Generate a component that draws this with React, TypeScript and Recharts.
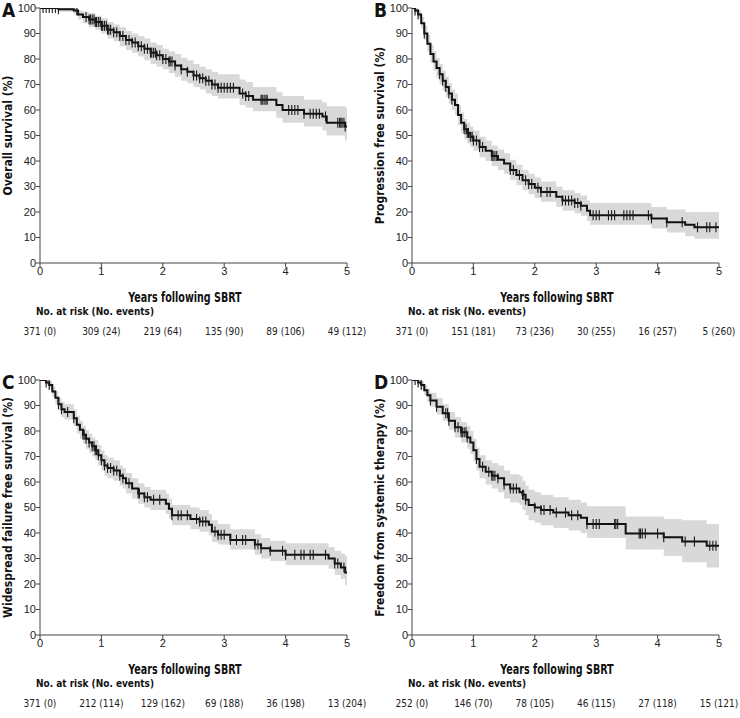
import React from "react";
import { ComposedChart, Line, Area, Scatter, XAxis, YAxis } from "recharts";

// ---------- Panel A: Overall survival ----------
const aTimes = [0, 0.3, 0.55, 0.62, 0.7, 0.8, 0.9, 1.0, 1.1, 1.2, 1.3, 1.4, 1.5, 1.6, 1.7, 1.8, 1.9, 2.0, 2.1, 2.2, 2.3, 2.4, 2.5, 2.6, 2.7, 2.8, 2.9, 3.25, 3.35, 3.47, 3.85, 3.95, 4.3, 4.6, 4.67, 4.97, 5];
const aSurv = [100, 99.5, 99, 97.5, 96.5, 95.5, 94.5, 93, 91.5, 90.5, 89, 87.5, 86.5, 85, 84, 82.5, 81.5, 80, 79, 77.5, 76, 75, 73.5, 72.5, 71.5, 70, 68.7, 66.5, 65.5, 64, 62, 60, 58.5, 57.5, 55, 53.5, 53.5];
const aLower = [100, 98.5, 97.5, 95.5, 94, 92.5, 91.5, 90, 88, 87, 85, 83.5, 82.5, 81, 79.5, 78, 77, 76, 74.5, 73, 71.5, 70.5, 69, 68, 66.5, 65.5, 64.5, 62, 61, 59.5, 57, 55, 53.5, 52, 50, 48, 48];
const aUpper = [100, 100, 100, 99, 98.5, 98, 97, 96, 94.5, 93.5, 92.5, 91, 90, 89, 88, 86.5, 85.5, 84, 83, 82, 80.5, 79.5, 78, 77, 76, 75, 74, 72, 71, 69, 67, 65.5, 64, 63, 61.5, 61, 61];
const aCensor = [0.05, 0.1, 0.15, 0.2, 0.25, 0.3, 0.6, 0.75, 0.8, 0.82, 0.85, 0.88, 0.9, 0.92, 0.95, 0.98, 1.0, 1.02, 1.05, 1.08, 1.1, 1.12, 1.15, 1.2, 1.25, 1.3, 1.35, 1.4, 1.45, 1.5, 1.55, 1.6, 1.65, 1.7, 1.75, 1.8, 1.82, 1.85, 1.88, 1.9, 1.95, 2.0, 2.05, 2.1, 2.12, 2.15, 2.2, 2.3, 2.4, 2.5, 2.55, 2.6, 2.65, 2.7, 2.75, 2.8, 2.85, 2.9, 2.95, 3.0, 3.05, 3.1, 3.15, 3.3, 3.35, 3.4, 3.6, 3.62, 3.65, 3.68, 3.7, 4.05, 4.1, 4.15, 4.2, 4.3, 4.4, 4.45, 4.5, 4.55, 4.65, 4.85, 4.88, 4.9, 4.92, 4.95, 4.97];
const aRisk = ["371 (0)", "309 (24)", "219 (64)", "135 (90)", "89 (106)", "49 (112)"];

// ---------- Panel B: Progression free survival ----------
const bTimes = [0, 0.05, 0.1, 0.15, 0.2, 0.25, 0.3, 0.35, 0.4, 0.45, 0.5, 0.55, 0.6, 0.65, 0.7, 0.75, 0.8, 0.85, 0.9, 0.95, 1.0, 1.1, 1.2, 1.3, 1.4, 1.5, 1.6, 1.7, 1.8, 1.9, 2.0, 2.1, 2.35, 2.45, 2.65, 2.75, 2.85, 2.9, 3.9, 4.15, 4.45, 4.6, 5];
const bSurv = [100, 99, 97.5, 94, 90, 86, 82, 79, 76.5, 74, 71.5, 69, 66.5, 64, 62, 58, 55, 52.5, 51, 49.5, 48, 45.5, 44, 42, 40.5, 39, 36.5, 34.5, 32.5, 31, 29.5, 27.8, 26, 24.5, 23.5, 22.5, 20.5, 18.7, 17.5, 16, 15, 14, 14];
const bLower = [100, 98, 96, 92, 87.5, 83, 78.5, 75.5, 72.5, 70, 67.5, 65, 62.5, 60, 58, 54, 51, 48.5, 47, 45.5, 44, 41.5, 40, 38, 36.5, 35, 32.5, 30.5, 28.5, 27, 25.5, 24, 22, 20.5, 19.5, 18.5, 16.5, 15, 13.5, 12, 10.5, 9.5, 9.5];
const bUpper = [100, 100, 99, 96.5, 93, 89.5, 85.5, 83, 80.5, 78, 75.5, 73, 70.5, 68, 66.5, 62, 59, 56.5, 55, 53.5, 52, 49.5, 48, 46, 44.5, 43, 40.5, 38.5, 36.5, 35, 33.5, 32, 30, 28.5, 27.5, 26.5, 24.5, 23.5, 22, 21, 20, 20, 20];
const bCensor = [0.05, 0.1, 0.2, 0.45, 0.5, 0.55, 0.6, 0.65, 0.85, 0.88, 0.9, 0.92, 0.95, 0.98, 1.0, 1.05, 1.1, 1.15, 1.3, 1.32, 1.35, 1.38, 1.6, 1.65, 1.75, 1.85, 1.9, 1.95, 2.05, 2.1, 2.2, 2.25, 2.45, 2.5, 2.55, 2.6, 2.65, 2.7, 2.75, 2.95, 3.0, 3.05, 3.2, 3.25, 3.3, 3.45, 3.5, 3.55, 3.6, 3.85, 3.9, 4.15, 4.4, 4.65, 4.8, 4.85, 4.95];
const bRisk = ["371 (0)", "151 (181)", "73 (236)", "30 (255)", "16 (257)", "5 (260)"];

// ---------- Panel C: Widespread failure free survival ----------
const cTimes = [0, 0.1, 0.15, 0.2, 0.25, 0.3, 0.35, 0.4, 0.55, 0.6, 0.65, 0.7, 0.75, 0.8, 0.85, 0.9, 0.95, 1.0, 1.05, 1.1, 1.2, 1.3, 1.35, 1.4, 1.5, 1.6, 1.7, 1.8, 2.05, 2.1, 2.15, 2.45, 2.6, 2.75, 2.8, 2.9, 3.1, 3.5, 3.6, 3.75, 4.0, 4.7, 4.8, 4.9, 4.97, 5];
const cSurv = [100, 99, 98, 95.5, 93, 90.5, 88.5, 87.5, 85, 82.5, 80.5, 78.5, 77, 75.5, 74, 72.5, 70.5, 68.5, 66.5, 65.5, 64.5, 62.5, 61.5, 59.5, 57.5, 55.5, 54, 53, 51.5, 49.5, 47, 45.5, 44.5, 43.2, 40.6, 39.3, 37.3, 35.5, 34, 33, 31.5, 30, 28, 26.5, 24.5, 24.5];
const cLower = [100, 98, 96.5, 93.5, 90.5, 88, 85.5, 84.5, 82, 79, 77, 75, 73, 71.5, 70, 68.5, 66.5, 64.5, 62.5, 61.5, 60.5, 58.5, 57.5, 55.5, 53.5, 51.5, 50, 49, 47.5, 45.5, 43, 41.5, 40.5, 39, 36.5, 35.5, 33.5, 31.5, 30, 29, 27.5, 26, 23.5, 22, 19.5, 17];
const cUpper = [100, 100, 99.5, 97.5, 95.5, 93, 91.5, 90.5, 88.5, 86, 84, 82, 80.5, 79, 77.5, 76.5, 74.5, 72.5, 70.5, 69.5, 68.5, 66.5, 65.5, 63.5, 61.5, 59.5, 58, 57, 55.5, 53.5, 51, 50, 49, 47.5, 45, 43.5, 41.5, 39.5, 38, 37, 36, 34.5, 33, 32, 31, 31];
const cCensor = [0.1, 0.15, 0.3, 0.35, 0.45, 0.55, 0.7, 0.72, 0.75, 0.8, 0.85, 0.88, 0.9, 0.92, 0.95, 1.0, 1.05, 1.1, 1.15, 1.2, 1.25, 1.3, 1.35, 1.45, 1.6, 1.62, 1.7, 1.75, 1.85, 1.95, 2.15, 2.25, 2.3, 2.4, 2.55, 2.6, 2.65, 2.7, 2.85, 2.9, 2.95, 3.0, 3.1, 3.2, 3.3, 3.35, 3.5, 3.55, 3.6, 3.75, 3.95, 4.0, 4.15, 4.25, 4.3, 4.4, 4.45, 4.65, 4.8, 4.85, 4.95];
const cRisk = ["371 (0)", "212 (114)", "129 (162)", "69 (188)", "36 (198)", "13 (204)"];

// ---------- Panel D: Freedom from systemic therapy ----------
const dTimes = [0, 0.1, 0.15, 0.2, 0.25, 0.3, 0.4, 0.5, 0.6, 0.7, 0.8, 0.9, 0.95, 1.0, 1.05, 1.1, 1.2, 1.3, 1.4, 1.5, 1.6, 1.75, 1.8, 1.85, 1.9, 2.0, 2.1, 2.3, 2.55, 2.75, 2.85, 3.48, 4.1, 4.4, 4.8, 5];
const dSurv = [100, 99, 98, 96, 94, 92, 89.5, 87, 84, 81.5, 79.5, 77.5, 75.5, 72.5, 69, 66, 64, 62.5, 61.5, 59, 57.5, 56, 55, 53, 51, 50, 49, 48, 47, 46, 43.5, 39.8, 38.3, 36.7, 35, 35];
const dLower = [100, 98, 96.5, 94, 91.5, 89.5, 86.5, 84, 80.5, 77.5, 75.5, 73, 71, 68, 64.5, 61.5, 59, 57.5, 56, 53.5, 52, 51, 49, 47, 45, 44, 43, 42, 41, 40, 38, 33.5, 31, 28.5, 26.5, 26.5];
const dUpper = [100, 100, 99.5, 98, 96.5, 95, 93, 90.5, 87.5, 85.5, 83.5, 82, 80, 77, 73.5, 70.5, 68.5, 67.5, 66.5, 64.5, 63, 62.5, 60.5, 58.5, 57, 56, 55, 54, 53, 52, 50.5, 46.5, 45.5, 45, 43.5, 43.5];
const dCensor = [0.05, 0.1, 0.15, 0.3, 0.4, 0.55, 0.58, 0.6, 0.7, 0.75, 0.8, 0.82, 0.85, 0.88, 0.9, 1.05, 1.15, 1.25, 1.3, 1.32, 1.35, 1.4, 1.5, 1.6, 1.65, 1.7, 1.8, 1.82, 1.85, 2.0, 2.1, 2.15, 2.25, 2.35, 2.5, 2.6, 2.7, 2.85, 2.95, 3.0, 3.05, 3.3, 3.32, 3.35, 3.7, 3.72, 3.75, 3.8, 4.0, 4.1, 4.45, 4.6, 4.85, 4.9, 4.95];
const dRisk = ["252 (0)", "146 (70)", "78 (105)", "46 (115)", "27 (118)", "15 (121)"];

const xTicks = [0, 1, 2, 3, 4, 5];
const yTicks = [0, 10, 20, 30, 40, 50, 60, 70, 80, 90, 100];

const NARROW = '"Liberation Sans Narrow", "DejaVu Sans Condensed", "Liberation Sans", sans-serif';
const TICKFONT = '"Liberation Sans", Arial, sans-serif';

type PanelProps = {
  letter: string;
  yLabel: string;
  times: number[];
  surv: number[];
  lower: number[];
  upper: number[];
  censor: number[];
  risk: string[];
  left: number;
  top: number;
};

function stepAt(times: number[], surv: number[], t: number) {
  let v = surv[0];
  for (let i = 0; i < times.length; i++) {
    if (times[i] <= t) v = surv[i];
  }
  return v;
}

const CensorMark = (props: any) => {
  const { cx, cy } = props;
  if (cx == null || cy == null) return <g />;
  return <line x1={cx} x2={cx} y1={cy - 5} y2={cy + 5} stroke="#1a1a1a" strokeWidth={1.1} />;
};

function Panel(p: PanelProps) {
  const data = p.times.map((t, i) => ({ t, s: p.surv[i], band: [p.lower[i], p.upper[i]] }));
  const censorData = p.censor.map((t) => ({ t, s: stepAt(p.times, p.surv, t) }));
  const tickStyle = { fontSize: 11, fill: "#222", fontFamily: TICKFONT };
  return (
    <div style={{ position: "absolute", left: p.left, top: p.top, width: 370, height: 345 }}>
      <ComposedChart width={370} height={343} data={data} margin={{ top: 8, right: 23, left: 0, bottom: 0 }}>
        <XAxis
          dataKey="t"
          type="number"
          domain={[0, 5]}
          ticks={xTicks}
          allowDataOverflow
          height={40}
          tickSize={4}
          tickMargin={0}
          stroke="#444"
          tick={tickStyle}
        />
        <XAxis
          xAxisId="risk"
          dataKey="t"
          type="number"
          domain={[0, 5]}
          ticks={xTicks}
          allowDataOverflow
          height={40}
          axisLine={false}
          tickLine={false}
          tickSize={0}
          tickMargin={25}
          tickFormatter={(v: number) => p.risk[xTicks.indexOf(v)] ?? ""}
          tick={{ fontSize: 10, fill: "#222", fontFamily: NARROW }}
          interval={0}
        />
        <YAxis
          type="number"
          domain={[0, 100]}
          ticks={yTicks}
          allowDataOverflow
          width={40}
          tickSize={4}
          tickMargin={0}
          stroke="#444"
          tick={tickStyle}
          interval={0}
          label={{
            value: p.yLabel,
            angle: -90,
            position: "insideLeft",
            offset: 8,
            style: { textAnchor: "middle", fontSize: 12, fontWeight: 700, fill: "#111", fontFamily: NARROW },
          }}
        />
        <Area
          dataKey="band"
          type="stepAfter"
          fill="#d9d9d9"
          fillOpacity={1}
          stroke="none"
          isAnimationActive={false}
          dot={false}
          activeDot={false}
        />
        <Line
          dataKey="s"
          type="stepAfter"
          stroke="#111"
          strokeWidth={2}
          dot={false}
          activeDot={false}
          isAnimationActive={false}
        />
        <Scatter data={censorData} dataKey="s" shape={CensorMark} isAnimationActive={false} />
      </ComposedChart>
      <div
        style={{
          position: "absolute",
          left: 2,
          top: 0,
          fontFamily: NARROW,
          fontWeight: 700,
          fontSize: 19,
          lineHeight: "20px",
          color: "#111",
        }}
      >
        {p.letter}
      </div>
      <div
        style={{
          position: "absolute",
          left: 0,
          width: 370,
          top: 289,
          textAlign: "center",
          fontFamily: NARROW,
          fontWeight: 700,
          fontSize: 14,
          lineHeight: "16px",
          color: "#111",
          transform: "scaleX(0.76)",
          transformOrigin: "185px 8px",
        }}
      >
        Years following SBRT
      </div>
      <div
        style={{
          position: "absolute",
          left: 36,
          top: 305,
          fontFamily: NARROW,
          fontWeight: 700,
          fontSize: 10.5,
          lineHeight: "13px",
          color: "#111",
          whiteSpace: "nowrap",
          transform: "scaleX(0.95)",
          transformOrigin: "0px 6px",
        }}
      >
        No. at risk (No. events)
      </div>
    </div>
  );
}

export default function App() {
  return (
    <div style={{ position: "absolute", left: 0, top: 0, width: 740, height: 718, background: "#fff", overflow: "hidden" }}>
      <Panel letter="A" yLabel="Overall survival (%)" times={aTimes} surv={aSurv} lower={aLower} upper={aUpper} censor={aCensor} risk={aRisk} left={0} top={0} />
      <Panel letter="B" yLabel="Progression free survival (%)" times={bTimes} surv={bSurv} lower={bLower} upper={bUpper} censor={bCensor} risk={bRisk} left={372} top={0} />
      <Panel letter="C" yLabel="Widespread failure free survival (%)" times={cTimes} surv={cSurv} lower={cLower} upper={cUpper} censor={cCensor} risk={cRisk} left={0} top={372} />
      <Panel letter="D" yLabel="Freedom from systemic therapy (%)" times={dTimes} surv={dSurv} lower={dLower} upper={dUpper} censor={dCensor} risk={dRisk} left={372} top={372} />
    </div>
  );
}
